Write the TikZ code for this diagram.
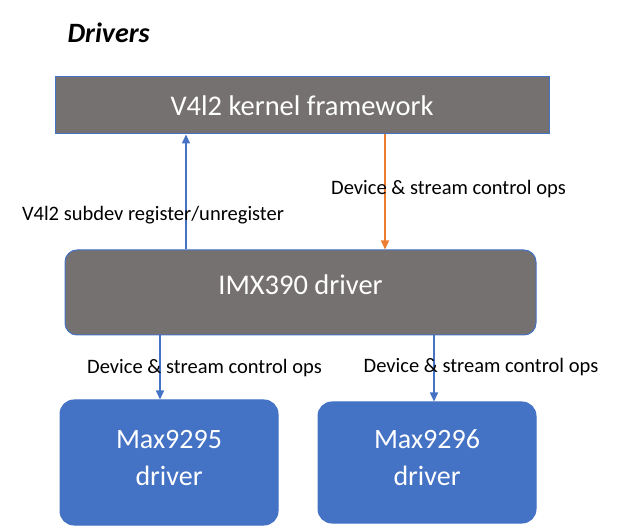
\documentclass[tikz,border=0pt]{standalone}
\usepackage{fontspec}
\setmainfont{Carlito}
\usetikzlibrary{arrows.meta, positioning}
\definecolor{BoxGray}{HTML}{767171}
\definecolor{OBlue}{HTML}{4472C4}
\definecolor{OOrange}{HTML}{ED7D31}
\tikzset{
    grayblock/.style={
        rectangle,
        draw=OBlue,
        fill=BoxGray,
        text=white,
        align=center,
        font=\fontsize{28.5}{34}\selectfont,
        line width=1pt
    },
    chipblock/.style={
        rectangle,
        rounded corners=14pt,
        draw=OBlue,
        fill=OBlue,
        text=white,
        align=center,
        font=\fontsize{28}{37}\selectfont,
        line width=1pt
    },
    flowarrow/.style={
        -{Triangle[length=9pt, width=8pt]},
        line width=1.5pt
    },
    labeltext/.style={
        anchor=base,
        font=\fontsize{20.5}{24}\selectfont,
        color=black
    }
}

\begin{document}
\begin{tikzpicture}[x=1pt, y=-1pt]
    \useasboundingbox (0,0) rectangle (632,526);

    % Nodes
    \node[anchor=base west, font=\fontsize{28}{32}\selectfont\bfseries\itshape] (title) at (64,43) {Drivers};

    \node[grayblock, minimum width=494pt, minimum height=57pt] (kernel) at (302,105.5) {V4l2 kernel framework};
    \node[grayblock, rounded corners=12pt, minimum width=471pt, minimum height=85pt, text depth=15pt] (imx) at (300.5,292.5) {IMX390 driver};

    \node[chipblock, minimum width=218pt, minimum height=125pt, text depth=10pt] (max95) at (169,462.5) {Max9295\\driver};
    \node[chipblock, minimum width=218pt, minimum height=121pt, text depth=10pt] (max96) at (427,462.5) {Max9296\\driver};

    \coordinate (regx) at (186,0);
    \coordinate (opsx) at (385,0);
    \coordinate (leftx) at (160,0);
    \coordinate (rightx) at (434,0);

    % Paths
    \draw[flowarrow, OBlue] (imx.north -| regx) -- (kernel.south -| regx);
    \draw[flowarrow, OOrange] (kernel.south -| opsx) -- (imx.north -| opsx);
    \draw[flowarrow, OBlue] (imx.south -| leftx) -- (max95.north -| leftx);
    \draw[flowarrow, OBlue] (imx.south -| rightx) -- (max96.north -| rightx);

    % Labels
    \node[labeltext] (opsup) at (448.5,195) {Device \& stream control ops};
    \node[labeltext] (reglbl) at (153,221) {V4l2 subdev register/unregister};
    \node[labeltext] (opsleft) at (204.5,374) {Device \& stream control ops};
    \node[labeltext] (opsright) at (481,373) {Device \& stream control ops};

\end{tikzpicture}
\end{document}
